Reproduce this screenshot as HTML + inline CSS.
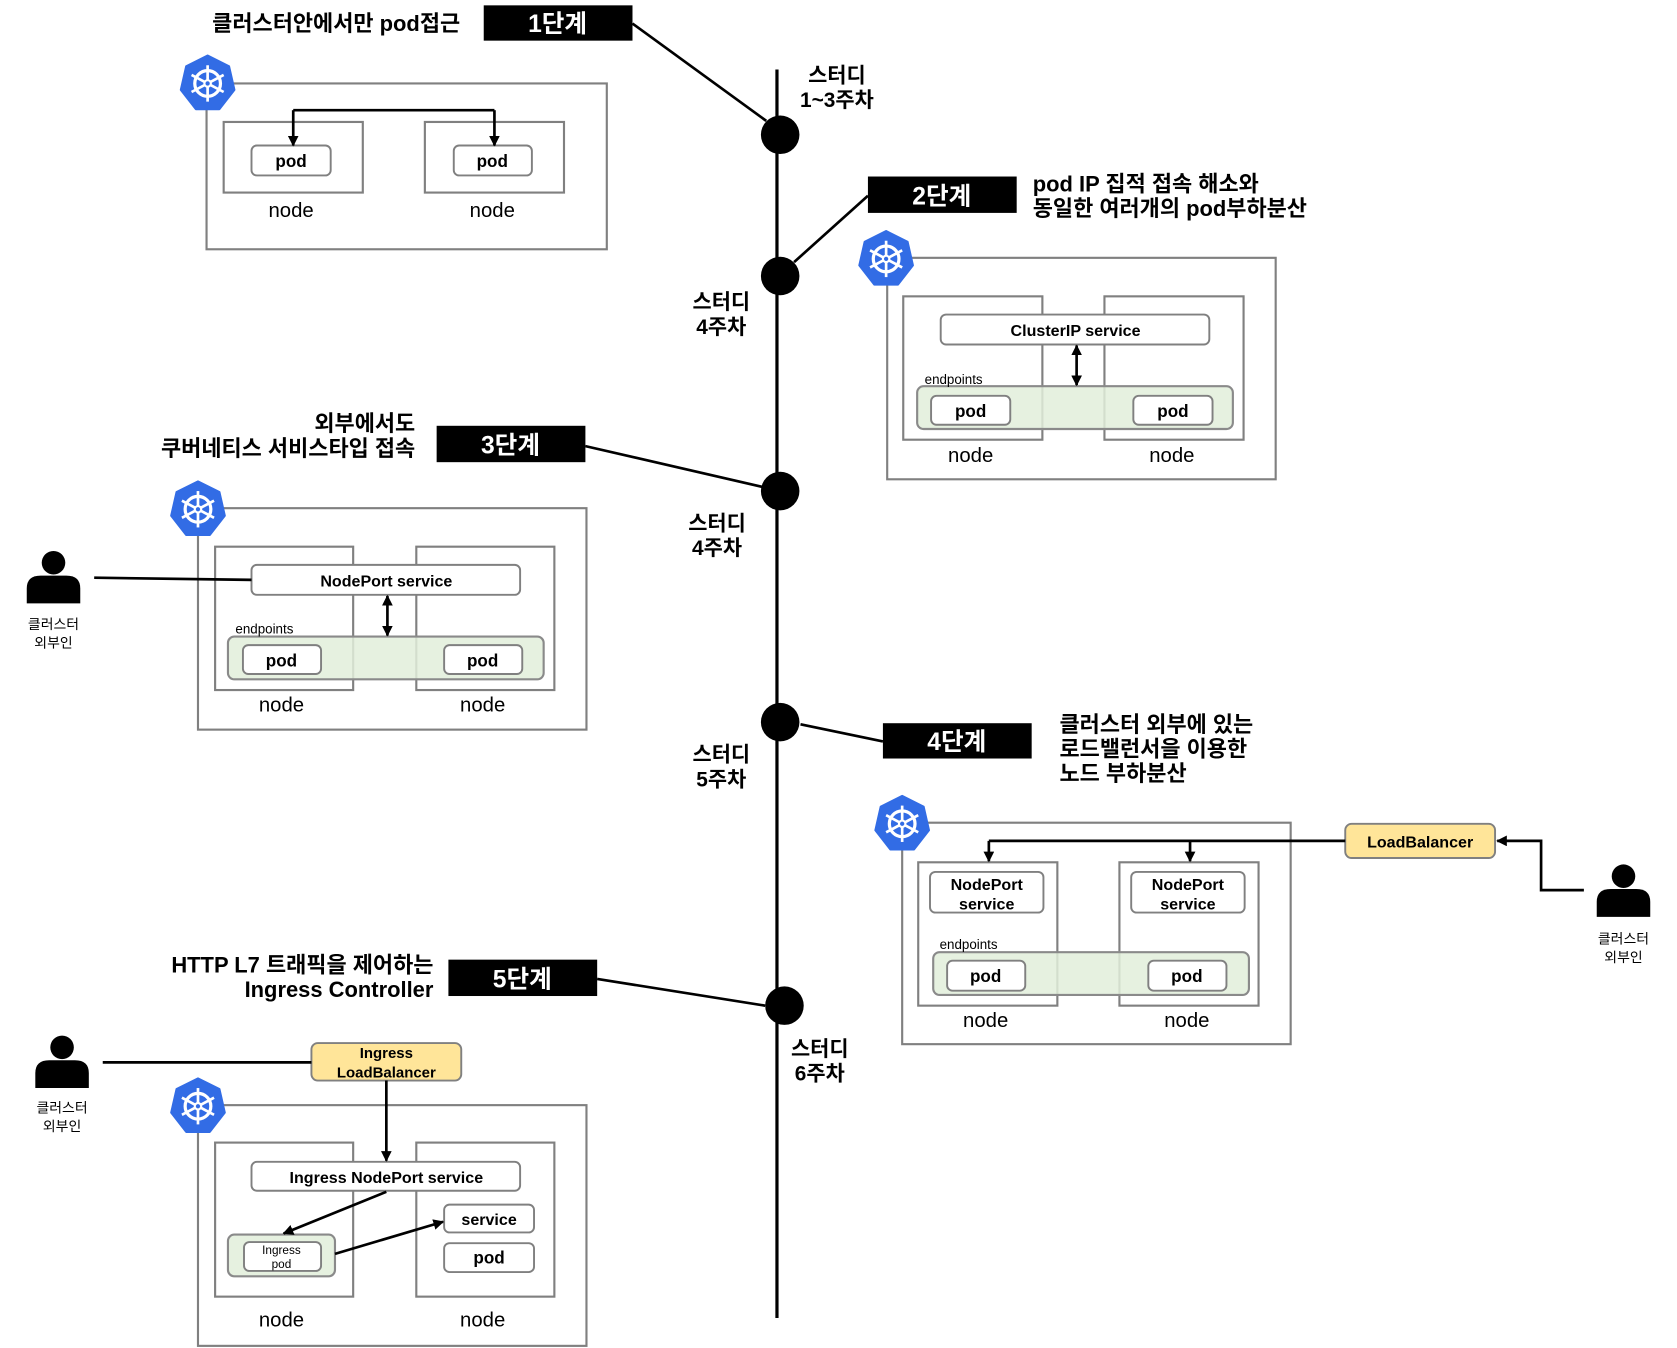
<!DOCTYPE html>
<html><head><meta charset="utf-8"><style>
html,body{margin:0;padding:0;background:#fff;}
svg{display:block;}
text{font-family:"Liberation Sans","Noto Sans CJK KR",sans-serif;}
.b{font-weight:bold;}
</style></head><body>
<svg width="1677" height="1348" viewBox="0 0 1567 1260" preserveAspectRatio="none" xmlns="http://www.w3.org/2000/svg">
<defs>
<g id="k8s">
<polygon points="0,-26 20,-16 25,6 11,24 -11,24 -25,6 -20,-16" fill="#326ce5" stroke="#326ce5" stroke-width="2" stroke-linejoin="round"/>
<circle r="12" fill="none" stroke="#fff" stroke-width="3"/>
<g stroke="#fff" stroke-width="2.5">
<line x1="0" y1="-17" x2="0" y2="17"/><line x1="-15" y1="-8" x2="15" y2="8"/><line x1="-15" y1="8" x2="15" y2="-8"/>
</g>
<circle r="3" fill="#326ce5" stroke="#fff" stroke-width="2"/>
</g>
<g id="person">
<circle cx="0" cy="-14" r="11" fill="#000"/>
<path d="M-25,24 L-25,10 Q-25,-2 -12,-2 L12,-2 Q25,-2 25,10 L25,24 Z" fill="#000"/>
</g>
<marker id="ar" markerWidth="10" markerHeight="10" refX="9" refY="5" orient="auto" markerUnits="userSpaceOnUse"><path d="M0,0 L10,5 L0,10 Z" fill="#000"/></marker>
<marker id="as" markerWidth="10" markerHeight="10" refX="1" refY="5" orient="auto" markerUnits="userSpaceOnUse"><path d="M10,0 L0,5 L10,10 Z" fill="#000"/></marker>
</defs>

<line x1="726" y1="65" x2="726" y2="1232" stroke="#000" stroke-width="3"/>
<g fill="#000">
<circle cx="729" cy="126" r="18"/><circle cx="729" cy="258" r="18"/><circle cx="729" cy="459" r="18"/><circle cx="729" cy="675" r="18"/><circle cx="733" cy="940" r="18"/>
</g>
<g stroke="#000" stroke-width="2.5">
<line x1="591" y1="22" x2="716" y2="113"/>
<line x1="811" y1="183" x2="742" y2="245"/>
<line x1="547" y1="417" x2="712" y2="455"/>
<line x1="748" y1="677" x2="825" y2="693"/>
<line x1="558" y1="915" x2="715" y2="940"/>
</g>
<g fill="#000">
<rect x="452" y="5" width="139" height="33"/><rect x="811" y="165" width="139" height="34"/><rect x="408" y="398" width="139" height="34"/><rect x="825" y="676" width="139" height="33"/><rect x="419" y="897" width="139" height="34"/>
</g>
<g class="b" fill="#fff" font-size="23" text-anchor="middle">
<text x="521" y="30">1단계</text><text x="880" y="191">2단계</text><text x="477" y="424">3단계</text><text x="894" y="701">4단계</text><text x="488" y="923">5단계</text>
</g>
<g class="b" font-size="19.5" text-anchor="middle">
<text x="782" y="77">스터디</text><text x="782" y="100">1~3주차</text>
<text x="674" y="289">스터디</text><text x="674" y="312">4주차</text>
<text x="670" y="496">스터디</text><text x="670" y="519">4주차</text>
<text x="674" y="712">스터디</text><text x="674" y="735">5주차</text>
<text x="766" y="987">스터디</text><text x="766" y="1010">6주차</text>
</g>
<g class="b" font-size="20.5">
<text x="430" y="29" text-anchor="end">클러스터안에서만 pod접근</text>
<text x="965" y="179">pod IP 집적 접속 해소와</text><text x="965" y="202">동일한 여러개의 pod부하분산</text>
<text x="388" y="403" text-anchor="end">외부에서도</text><text x="388" y="426" text-anchor="end">쿠버네티스 서비스타입 접속</text>
<text x="990" y="684">클러스터 외부에 있는</text><text x="990" y="707">로드밸런서을 이용한</text><text x="990" y="730">노드 부하분산</text>
<text x="405" y="909" text-anchor="end">HTTP L7 트래픽을 제어하는</text><text x="405" y="932" text-anchor="end">Ingress Controller</text>
</g>

<g fill="none" stroke="#808080" stroke-width="2">
<rect x="193" y="78" width="374" height="155"/>
<rect x="209" y="114" width="130" height="66"/><rect x="397" y="114" width="130" height="66"/>
<rect x="829" y="241" width="363" height="207"/>
<rect x="844" y="277" width="130" height="134"/><rect x="1032" y="277" width="130" height="134"/>
<rect x="185" y="475" width="363" height="207"/>
<rect x="201" y="511" width="129" height="134"/><rect x="389" y="511" width="129" height="134"/>
<rect x="843" y="769" width="363" height="207"/>
<rect x="858" y="806" width="130" height="134"/><rect x="1046" y="806" width="130" height="134"/>
<rect x="185" y="1033" width="363" height="225"/>
<rect x="201" y="1068" width="129" height="144"/><rect x="389" y="1068" width="129" height="144"/>
</g>
<g fill="#e2efda" fill-opacity="0.85" stroke="#8a8a8a" stroke-width="2">
<rect x="857" y="361" width="295" height="40" rx="6"/>
<rect x="213" y="595" width="295" height="40" rx="6"/>
<rect x="872" y="890" width="295" height="40" rx="6"/>
<rect x="213" y="1154" width="100" height="39" rx="6"/>
</g>
<g fill="#fff" stroke="#808080" stroke-width="1.8">
<rect x="235" y="136" width="74" height="28" rx="5"/><rect x="424" y="136" width="73" height="28" rx="5"/>
<rect x="879" y="294" width="251" height="28" rx="5"/>
<rect x="870" y="370" width="74" height="27" rx="5"/><rect x="1059" y="370" width="74" height="27" rx="5"/>
<rect x="235" y="528" width="251" height="28" rx="5"/>
<rect x="227" y="603" width="73" height="27" rx="5"/><rect x="415" y="603" width="73" height="27" rx="5"/>
<rect x="869" y="815" width="106" height="38" rx="5"/><rect x="1057" y="815" width="106" height="38" rx="5"/>
<rect x="885" y="898" width="73" height="28" rx="5"/><rect x="1073" y="898" width="73" height="28" rx="5"/>
<rect x="235" y="1086" width="251" height="27" rx="5"/>
<rect x="228" y="1161" width="72" height="27" rx="5"/>
<rect x="415" y="1126" width="84" height="26" rx="5"/><rect x="415" y="1162" width="84" height="27" rx="5"/>
</g>
<g fill="#ffe599" stroke="#808080" stroke-width="1.8">
<rect x="1257" y="770" width="140" height="32" rx="6"/>
<rect x="291" y="975" width="140" height="35" rx="6"/>
</g>

<use href="#k8s" x="194" y="78"/><use href="#k8s" x="828" y="242"/><use href="#k8s" x="185" y="476"/><use href="#k8s" x="843" y="770"/><use href="#k8s" x="185" y="1034"/>
<use href="#person" x="50" y="540"/><use href="#person" x="1517" y="833"/><use href="#person" x="58" y="993"/>

<g fill="none" stroke="#000" stroke-width="2.5">
<path d="M274,103 H462"/>
<line x1="274" y1="103" x2="274" y2="136" marker-end="url(#ar)"/>
<line x1="462" y1="103" x2="462" y2="136" marker-end="url(#ar)"/>
<line x1="1006" y1="323" x2="1006" y2="360" marker-start="url(#as)" marker-end="url(#ar)"/>
<line x1="362" y1="557" x2="362" y2="594" marker-start="url(#as)" marker-end="url(#ar)"/>
<line x1="88" y1="540" x2="235" y2="542"/>
<path d="M1257,786 H924"/>
<line x1="924" y1="786" x2="924" y2="805" marker-end="url(#ar)"/>
<line x1="1112" y1="786" x2="1112" y2="805" marker-end="url(#ar)"/>
<path d="M1480,832 H1440 V786 H1399" marker-end="url(#ar)"/>
<line x1="96" y1="993" x2="291" y2="993"/>
<line x1="361" y1="1010" x2="361" y2="1085" marker-end="url(#ar)"/>
<line x1="361" y1="1114" x2="265" y2="1153" marker-end="url(#ar)"/>
<line x1="313" y1="1172" x2="414" y2="1142" marker-end="url(#ar)"/>
</g>

<g class="b" font-size="16" text-anchor="middle">
<text x="272" y="156">pod</text><text x="460" y="156">pod</text>
<text x="1005" y="314" font-size="15">ClusterIP service</text>
<text x="907" y="390">pod</text><text x="1096" y="390">pod</text>
<text x="361" y="548" font-size="15">NodePort service</text>
<text x="263" y="623">pod</text><text x="451" y="623">pod</text>
<text x="922" y="832" font-size="15">NodePort</text><text x="922" y="850" font-size="15">service</text>
<text x="1110" y="832" font-size="15">NodePort</text><text x="1110" y="850" font-size="15">service</text>
<text x="921" y="918">pod</text><text x="1109" y="918">pod</text>
<text x="1327" y="792" font-size="15">LoadBalancer</text>
<text x="361" y="989" font-size="14">Ingress</text><text x="361" y="1007" font-size="14">LoadBalancer</text>
<text x="361" y="1106" font-size="15">Ingress NodePort service</text>
<text x="457" y="1145" font-size="15">service</text><text x="457" y="1181">pod</text>
<text x="263" y="1172" font-size="11" font-weight="normal">Ingress</text><text x="263" y="1185" font-size="11" font-weight="normal">pod</text>
</g>
<g font-size="12.5">
<text x="864" y="359">endpoints</text><text x="220" y="592">endpoints</text><text x="878" y="887">endpoints</text>
</g>
<g font-size="19" text-anchor="middle">
<text x="272" y="203">node</text><text x="460" y="203">node</text>
<text x="907" y="432">node</text><text x="1095" y="432">node</text>
<text x="263" y="665">node</text><text x="451" y="665">node</text>
<text x="921" y="960">node</text><text x="1109" y="960">node</text>
<text x="263" y="1240">node</text><text x="451" y="1240">node</text>
</g>
<g font-size="13" text-anchor="middle">
<text x="50" y="588">클러스터</text><text x="50" y="605">외부인</text>
<text x="1517" y="882">클러스터</text><text x="1517" y="899">외부인</text>
<text x="58" y="1040">클러스터</text><text x="58" y="1057">외부인</text>
</g>
</svg>
</body></html>
